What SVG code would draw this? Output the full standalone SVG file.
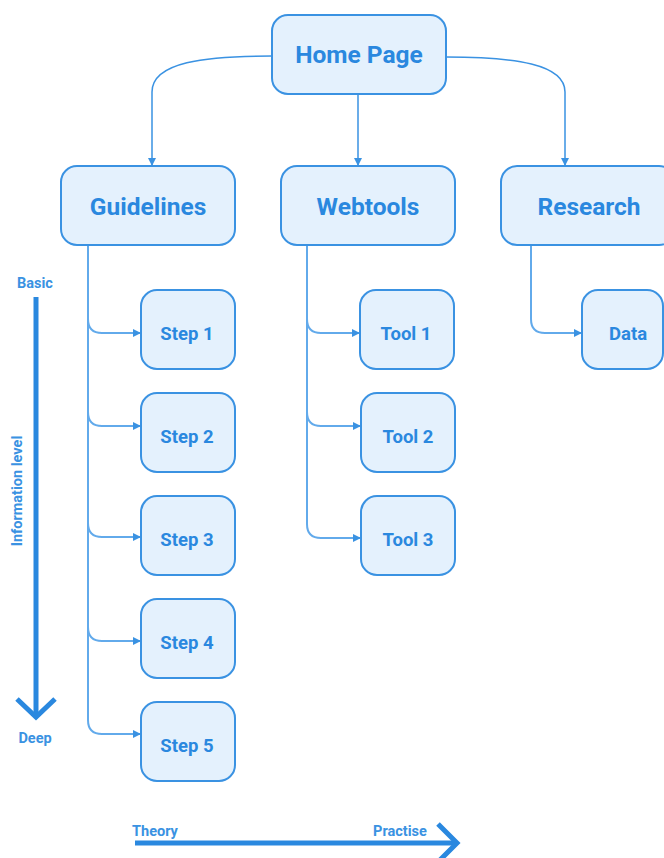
<svg xmlns="http://www.w3.org/2000/svg" width="664" height="858" viewBox="0 0 664 858">
  <style>
    .box { fill: #E4F1FD; stroke: #3A92E2; stroke-width: 2; }
    .lbl { font-family: Roboto, "Liberation Sans", sans-serif; font-weight: 700; fill: #2A88DF; text-anchor: middle; }
    .big { font-size: 24.5px; }
    .small { font-size: 18.5px; }
    .axis-lbl { font-family: Roboto, "Liberation Sans", sans-serif; font-weight: 700; fill: #3A92E2; font-size: 14.5px; text-anchor: middle; }
    .link { fill: none; stroke: #3A92E2; stroke-width: 1.5; }
    .trunk { fill: none; stroke: #62AAEB; stroke-width: 2; }
    .axis { fill: none; stroke: #2A88DF; stroke-width: 5; stroke-linecap: butt; }
  </style>
  <defs>
    <marker id="tip" viewBox="0 0 8 8" refX="8" refY="4" markerWidth="8" markerHeight="8" markerUnits="userSpaceOnUse" orient="auto">
      <path d="M0,0 L8,4 L0,8 Z" fill="#3A92E2"/>
    </marker>
  </defs>

  <!-- connectors -->
  <g id="connectors">
    <path class="link" d="M272,56 C205,56 152,62 152,92 L152,166" marker-end="url(#tip)"/>
    <path class="link" d="M358,94 L358,166" marker-end="url(#tip)"/>
    <path class="link" d="M446,57 C515,57 565,64 565,92 L565,166" marker-end="url(#tip)"/>

    <!-- Guidelines trunk and branches -->
    <path class="trunk" d="M88,245 L88,720"/>
    <path class="trunk" d="M88,319 Q88,333 102,333 L141,333" marker-end="url(#tip)"/>
    <path class="trunk" d="M88,412 Q88,426 102,426 L141,426" marker-end="url(#tip)"/>
    <path class="trunk" d="M88,523 Q88,537 102,537 L141,537" marker-end="url(#tip)"/>
    <path class="trunk" d="M88,627 Q88,641 102,641 L141,641" marker-end="url(#tip)"/>
    <path class="trunk" d="M88,720 Q88,734 102,734 L141,734" marker-end="url(#tip)"/>

    <!-- Webtools trunk and branches -->
    <path class="trunk" d="M307,245 L307,524"/>
    <path class="trunk" d="M307,319 Q307,333 321,333 L360,333" marker-end="url(#tip)"/>
    <path class="trunk" d="M307,412 Q307,426 321,426 L361,426" marker-end="url(#tip)"/>
    <path class="trunk" d="M307,524 Q307,538 321,538 L361,538" marker-end="url(#tip)"/>

    <!-- Research trunk and branch -->
    <path class="trunk" d="M531,245 L531,319 Q531,333 545,333 L582,333" marker-end="url(#tip)"/>
  </g>

  <!-- axes -->
  <g id="axis-depth">
    <line class="axis" x1="36" y1="297" x2="36" y2="716"/>
    <polyline class="axis" points="17,699 36,717 55,699" stroke-linejoin="miter"/>
    <text class="axis-lbl" x="35" y="288">Basic</text>
    <text class="axis-lbl" x="35" y="743">Deep</text>
    <text class="axis-lbl" transform="translate(22,491) rotate(-90)">Information level</text>
  </g>
  <g id="axis-practice">
    <line class="axis" x1="135" y1="843" x2="457" y2="843"/>
    <polyline class="axis" points="438,824 457,843 438,862" stroke-linejoin="miter"/>
    <text class="axis-lbl" x="155" y="836">Theory</text>
    <text class="axis-lbl" x="400" y="836">Practise</text>
  </g>

  <!-- nodes -->
  <g id="home">
    <rect class="box" x="272" y="15" width="174" height="79" rx="16"/>
    <text class="lbl big" x="359" y="63">Home Page</text>
  </g>
  <g id="guidelines">
    <rect class="box" x="61" y="166" width="174" height="79" rx="16"/>
    <text class="lbl big" x="148" y="215">Guidelines</text>
  </g>
  <g id="webtools">
    <rect class="box" x="281" y="166" width="174" height="79" rx="16"/>
    <text class="lbl big" x="368" y="215">Webtools</text>
  </g>
  <g id="research">
    <rect class="box" x="501" y="166" width="174" height="79" rx="16"/>
    <text class="lbl big" x="589" y="215">Research</text>
  </g>

  <g id="step1">
    <rect class="box" x="141" y="290" width="94" height="79" rx="16"/>
    <text class="lbl small" x="187" y="340">Step 1</text>
  </g>
  <g id="step2">
    <rect class="box" x="141" y="393" width="94" height="79" rx="16"/>
    <text class="lbl small" x="187" y="443">Step 2</text>
  </g>
  <g id="step3">
    <rect class="box" x="141" y="496" width="94" height="79" rx="16"/>
    <text class="lbl small" x="187" y="546">Step 3</text>
  </g>
  <g id="step4">
    <rect class="box" x="141" y="599" width="94" height="79" rx="16"/>
    <text class="lbl small" x="187" y="649">Step 4</text>
  </g>
  <g id="step5">
    <rect class="box" x="141" y="702" width="94" height="79" rx="16"/>
    <text class="lbl small" x="187" y="752">Step 5</text>
  </g>

  <g id="tool1">
    <rect class="box" x="360" y="290" width="94" height="79" rx="16"/>
    <text class="lbl small" x="406" y="340">Tool 1</text>
  </g>
  <g id="tool2">
    <rect class="box" x="361" y="393" width="94" height="79" rx="16"/>
    <text class="lbl small" x="408" y="443">Tool 2</text>
  </g>
  <g id="tool3">
    <rect class="box" x="361" y="496" width="94" height="79" rx="16"/>
    <text class="lbl small" x="408" y="546">Tool 3</text>
  </g>

  <g id="data">
    <rect class="box" x="582" y="290" width="81" height="79" rx="16"/>
    <text class="lbl small" x="628" y="340">Data</text>
  </g>
</svg>
